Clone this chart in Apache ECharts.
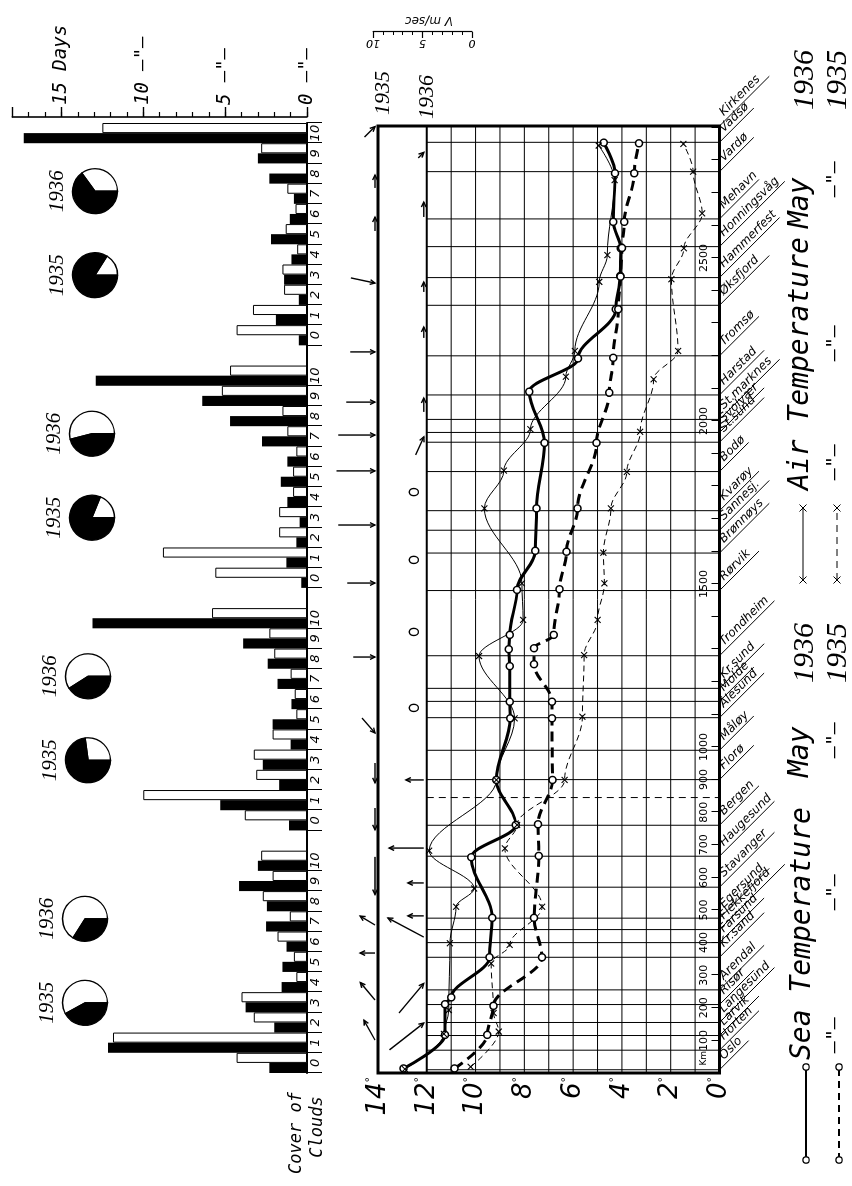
<!DOCTYPE html>
<html>
<head>
<meta charset="utf-8">
<title>Temperature, wind and cloud cover along the Norwegian coast, May 1935 and 1936</title>
<script src="https://cdn.jsdelivr.net/npm/echarts@6/dist/echarts.min.js"></script>
<style>
  html, body { margin: 0; padding: 0; background: #fff; }
  body { width: 852px; height: 1186px; overflow: hidden; position: relative; }
  /* The figure is laid out landscape (1186 x 852) and turned a quarter turn
     counter-clockwise so that the coast runs bottom (Oslo) to top (Kirkenes). */
  #chart {
    position: absolute; left: 0; top: 0;
    width: 1186px; height: 852px;
    transform-origin: 0 0;
    transform: translate(0, 1186px) rotate(-90deg);
    background: #fff;
  }
</style>
</head>
<body>
<div id="chart"></div>
<script>
// ---------------------------------------------------------------------------
// Stations along the coastal route, distance in km from Oslo
// ---------------------------------------------------------------------------
const stationNames = ['Oslo', 'Horten', 'Larvik', 'Langesund', 'Risør', 'Arendal', 'Kr.sand',
  'Farsund', 'Flekkefjord', 'Egersund', 'Stavanger', 'Haugesund', 'Bergen', '', 'Florø', 'Måløy',
  'Ålesund', 'Molde', 'Kr.sund', 'Trondheim', 'Rørvik', 'Brønnøys', 'Sannesj.', 'Kvarøy', 'Bodø',
  'St.sund', 'Svolvær', 'St.marknes', 'Harstad', 'Tromsø', 'Øksfjord', 'Hammerfest', 'Honningsvåg',
  'Mehavn', 'Vardø', 'Vadsø', 'Kirkenes'];
const stationKm = [10, 70, 115, 155, 210, 255, 355, 400, 440, 475, 570, 665, 760, 845, 900, 990,
  1090, 1140, 1180, 1280, 1480, 1595, 1665, 1725, 1845, 1935, 1965, 2005, 2080, 2200, 2355, 2440,
  2535, 2620, 2765, 2855, 2905];
const KM_MAX = 2905;
const kmTickLabels = [100, 200, 300, 400, 500, 600, 700, 800, 900, 1000, 1500, 2000, 2500];
const tempGridLines = [1, 2, 3, 4, 5, 6, 7, 8, 9, 10, 11, 12];

// ---------------------------------------------------------------------------
// Mean May temperatures, [km, degC]
// ---------------------------------------------------------------------------
const seaTemp1936 = [[14, 12.95], [117, 11.25], [211, 11.25], [232, 11.0], [355, 9.43], [476, 9.32],
  [662, 10.18], [761, 8.35], [899, 9.15], [1088, 8.58], [1139, 8.6], [1248, 8.6], [1300, 8.64],
  [1344, 8.6], [1482, 8.3], [1602, 7.55], [1732, 7.5], [1933, 7.17], [2090, 7.8], [2192, 5.8],
  [2343, 4.25], [2445, 4.07], [2530, 4.05], [2611, 4.36], [2760, 4.28], [2854, 4.75]];
const seaTemp1935 = [[14, 10.86], [117, 9.52], [206, 9.27], [355, 7.28], [476, 7.6], [666, 7.41],
  [763, 7.44], [899, 6.85], [1088, 6.87], [1139, 6.87], [1254, 7.6], [1303, 7.6], [1344, 6.8],
  [1484, 6.56], [1599, 6.27], [1732, 5.82], [1933, 5.04], [2087, 4.52], [2194, 4.36], [2343, 4.15],
  [2443, 4.06], [2531, 4.0], [2611, 3.9], [2760, 3.5], [2852, 3.3]];
const airTemp1936 = [[12, 12.9], [120, 11.3], [193, 11.1], [398, 11.05], [510, 10.8], [566, 10.06],
  [682, 11.9], [899, 9.15], [1088, 8.4], [1279, 9.86], [1390, 8.05], [1502, 8.1], [1732, 9.64],
  [1848, 8.84], [1975, 7.75], [2136, 6.3], [2215, 5.93], [2427, 4.93], [2509, 4.6], [2739, 4.3],
  [2845, 4.95]];
const airTemp1935 = [[19, 10.2], [127, 9.05], [184, 9.26], [336, 9.36], [393, 8.6], [510, 7.27],
  [689, 8.8], [761, 8.3], [899, 6.35], [1093, 5.62], [1282, 5.55], [1390, 5.0], [1502, 4.72],
  [1596, 4.76], [1732, 4.45], [1844, 3.8], [1967, 3.25], [2128, 2.7], [2215, 1.7], [2435, 1.97],
  [2530, 1.46], [2637, 0.71], [2765, 1.08], [2850, 1.48]];

// ---------------------------------------------------------------------------
// Mean wind, [km, direction the air moves towards (deg from north), speed m/s]
// speed 0 = calm
// ---------------------------------------------------------------------------
const wind1935 = [[2871, 45, 1.5], [2715, 0, 1.3], [2583, 0, 1.4], [2439, 102, 2.5], [2212, 90, 2.5],
  [2058, 90, 2.9], [1957, 90, 3.7], [1847, 90, 3.9], [1681, 90, 3.7], [1503, 90, 2.8],
  [1276, 90, 2.2], [1089, 139, 2.0], [951, 180, 2.0], [813, 180, 2.2], [663, 180, 3.8],
  [454, 301, 1.75], [368, 270, 1.5], [224, 320, 2.3], [101, 331, 2.3]];
const wind1936 = [[2807, 45, 0.8], [2626, 0, 1.5], [2396, 0, 1.0], [2255, 0, 1.1], [2028, 0, 1.4],
  [1896, 24, 2.0], [1782, 0, 0], [1574, 0, 0], [1353, 0, 0], [1120, 0, 0], [899, 270, 1.8],
  [690, 270, 3.5], [583, 270, 1.6], [482, 270, 1.6], [417, 298, 4.1], [184, 40, 3.9], [71, 52, 4.4]];

// ---------------------------------------------------------------------------
// Cover of clouds: number of days with cloudiness 0..10, four coastal sections
// ---------------------------------------------------------------------------
const cloudClasses = ['0', '1', '2', '3', '4', '5', '6', '7', '8', '9', '10'];
const cloudSouth1936 = [2.3, 12.15, 2.0, 3.75, 1.55, 1.5, 1.25, 2.5, 2.45, 4.15, 3.0];
const cloudSouth1935 = [4.3, 11.85, 3.25, 4.0, 0.65, 0.8, 1.8, 1.05, 2.7, 2.1, 2.8];
const cloudWest1936 = [1.1, 5.3, 1.7, 2.7, 1.0, 2.1, 0.95, 1.8, 2.4, 3.9, 13.1];
const cloudWest1935 = [3.8, 10.0, 3.1, 3.25, 2.1, 0.65, 0.75, 1.0, 2.0, 2.3, 5.8];
const cloudMid1936 = [0.35, 1.26, 0.65, 0.45, 1.2, 1.6, 1.2, 2.75, 4.7, 6.4, 12.9];
const cloudMid1935 = [5.6, 8.8, 1.7, 1.7, 0.85, 0.85, 0.65, 1.2, 1.5, 5.2, 4.7];
const cloudNorth1936 = [0.5, 1.9, 0.5, 1.4, 0.95, 2.2, 1.05, 0.8, 2.3, 3.0, 17.3];
const cloudNorth1935 = [4.3, 3.3, 1.4, 1.5, 0.6, 1.3, 0.7, 1.2, 0, 2.8, 12.5];
// mean cloud cover (fraction of sky) per section: South, West, Mid, North
const pieCover1936 = [0.34, 0.41, 0.46, 0.65];
const pieCover1935 = [0.42, 0.73, 0.81, 0.84];
const dayTickLabels = { 15: '15 Days', 10: '10 –"–', 5: '5 –"–', 0: '0 –"–' };
const windScaleLabels = [0, 5, 10];

// ---------------------------------------------------------------------------
// Layout (landscape canvas)
// ---------------------------------------------------------------------------
const W = 1186, H = 852;
const MAIN = { left: 113, right: 126, top: 378, bottom: 132.5 };
const CLOUD = { left: 113, right: 123, top: 12.3, bottom: 545 };
const WIND_SCALE = { left: 1154, right: 31, top: 373, bottom: 380 };
const WIND_PX_PER_MS = (H - WIND_SCALE.top - WIND_SCALE.bottom) / 10;
const HAND = '"DejaVu Sans Mono", monospace';
const SANS = '"DejaVu Sans", sans-serif';
const SERIF = '"Liberation Serif", "DejaVu Serif", serif';

// category axis for the four cloud sections, separated by an empty slot
const cloudGroups = [[cloudSouth1936, cloudSouth1935], [cloudWest1936, cloudWest1935],
  [cloudMid1936, cloudMid1935], [cloudNorth1936, cloudNorth1935]];
const cloudAxis = [], cloudBars1936 = [], cloudBars1935 = [];
cloudGroups.forEach((g, gi) => {
  if (gi > 0) { cloudAxis.push('gap' + gi); cloudBars1936.push(null); cloudBars1935.push(null); }
  cloudClasses.forEach((c, ci) => {
    cloudAxis.push(gi + '|' + c);
    cloudBars1936.push(g[0][ci]);
    cloudBars1935.push(g[1][ci]);
  });
});
const catW = (W - CLOUD.left - CLOUD.right) / cloudAxis.length;
const groupCentre = gi => CLOUD.left + catW * (12 * gi + 5.5);
const pieRowY = [85, 88, 92, 95];

// ---------------------------------------------------------------------------
// Custom renderers
// ---------------------------------------------------------------------------
function renderTempGrid(params, api) {
  const t = api.value(1);
  const a = api.coord([0, t]), b = api.coord([KM_MAX, t]);
  return { type: 'line', shape: { x1: a[0], y1: a[1], x2: b[0], y2: b[1] },
    style: { stroke: '#000', lineWidth: t === 12 ? 2 : 1 } };
}

function renderStation(params, api) {
  const km = api.value(0), name = stationNames[api.value(2)];
  const top = api.coord([km, 12]), bot = api.coord([km, 0]);
  const children = [{ type: 'line', shape: { x1: top[0], y1: top[1], x2: bot[0], y2: bot[1] },
    style: { stroke: '#000', lineWidth: 1, lineDash: name ? null : [7, 5] } }];
  if (name) {
    const d = (name.length * 7.3 + 12) / Math.SQRT2;
    children.push({ type: 'line', shape: { x1: bot[0], y1: bot[1], x2: bot[0] + d, y2: bot[1] + d },
      style: { stroke: '#000', lineWidth: 1 } });
    children.push({ type: 'text', x: bot[0], y: bot[1], rotation: -Math.PI / 4,
      style: { text: name, x: 10, y: -1, font: 'italic 12px ' + SANS, fill: '#000',
        align: 'left', verticalAlign: 'bottom', textAlign: 'left', textVerticalAlign: 'bottom' } });
  }
  return { type: 'group', children };
}

function renderWind(params, api) {
  const km = api.value(0), anchorT = api.value(1), bearing = api.value(2), speed = api.value(3);
  const p = api.coord([km, anchorT]);
  const x = p[0], yLine = p[1];
  if (!speed) {
    return { type: 'ellipse', shape: { cx: x, cy: yLine - 13, rx: 3.6, ry: 4.6 },
      style: { fill: null, stroke: '#000', lineWidth: 1.4 } };
  }
  const L = speed * WIND_PX_PER_MS, b = bearing * Math.PI / 180;
  const dx = L * Math.cos(b), dy = L * Math.sin(b);
  const tx = x, ty = yLine - 3 - Math.max(0, dy);
  const hx = tx + dx, hy = ty + dy;
  const ang = Math.atan2(dy, dx), h = 5.5, spread = 0.45;
  const b1 = [hx - h * Math.cos(ang - spread), hy - h * Math.sin(ang - spread)];
  const b2 = [hx - h * Math.cos(ang + spread), hy - h * Math.sin(ang + spread)];
  return { type: 'group', children: [
    { type: 'line', shape: { x1: tx, y1: ty, x2: hx, y2: hy }, style: { stroke: '#000', lineWidth: 1.4 } },
    { type: 'polyline', shape: { points: [b1, [hx, hy], b2] }, style: { stroke: '#000', lineWidth: 1.4, fill: null } }
  ] };
}

// ---------------------------------------------------------------------------
// Series
// ---------------------------------------------------------------------------
const CROSS = 'path://M0,0L10,10M10,0L0,10';
function tempLine(name, data, thick, dashed, marker) {
  return {
    name, type: 'line', xAxisIndex: 0, yAxisIndex: 0, data, z: 4,
    smooth: 0.35, smoothMonotone: 'x', silent: true,
    symbol: marker === 'o' ? 'circle' : CROSS,
    symbolSize: marker === 'o' ? 7 : 6,
    lineStyle: { color: '#000', width: thick ? 3 : 1, type: dashed ? (thick ? [10, 6] : [6, 4]) : 'solid' },
    itemStyle: marker === 'o'
      ? { color: '#fff', borderColor: '#000', borderWidth: 1.5 }
      : { color: 'rgba(0,0,0,0)', borderColor: '#000', borderWidth: 1.1 }
  };
}

const series = [
  { name: 'grid', type: 'custom', xAxisIndex: 0, yAxisIndex: 0, z: 1, silent: true, clip: false,
    data: tempGridLines.map(t => [0, t]), encode: { x: 0, y: 1 }, renderItem: renderTempGrid },
  { name: 'stations', type: 'custom', xAxisIndex: 0, yAxisIndex: 0, z: 1, silent: true, clip: false,
    data: stationKm.map((k, i) => [k, 0, i]), encode: { x: 0, y: 1 }, renderItem: renderStation },
  tempLine('Sea Temperature May 1936', seaTemp1936, true, false, 'o'),
  tempLine('Sea Temperature May 1935', seaTemp1935, true, true, 'o'),
  tempLine('Air Temperature May 1936', airTemp1936, false, false, 'x'),
  tempLine('Air Temperature May 1935', airTemp1935, false, true, 'x'),
  { name: 'wind 1935', type: 'custom', xAxisIndex: 0, yAxisIndex: 0, z: 5, silent: true, clip: false,
    data: wind1935.map(w => [w[0], 14, w[1], w[2]]), encode: { x: 0, y: 1 }, renderItem: renderWind },
  { name: 'wind 1936', type: 'custom', xAxisIndex: 0, yAxisIndex: 0, z: 5, silent: true, clip: false,
    data: wind1936.map(w => [w[0], 12, w[1], w[2]]), encode: { x: 0, y: 1 }, renderItem: renderWind },
  { name: 'clouds 1936', type: 'bar', xAxisIndex: 1, yAxisIndex: 1, data: cloudBars1936, silent: true,
    barGap: '0%', barCategoryGap: '0%', itemStyle: { color: '#000' } },
  { name: 'clouds 1935', type: 'bar', xAxisIndex: 1, yAxisIndex: 1, data: cloudBars1935, silent: true,
    barGap: '0%', barCategoryGap: '0%', itemStyle: { color: '#fff', borderColor: '#000', borderWidth: 1 } }
];

// pies of mean cloudiness, one pair per coastal section
[pieCover1936, pieCover1935].forEach((covers, yi) => {
  covers.forEach((f, gi) => {
    series.push({
      name: 'cover ' + (yi ? 1935 : 1936), type: 'pie', silent: true,
      center: [groupCentre(gi) + (yi ? -41 : 43), pieRowY[gi]], radius: 22.5,
      startAngle: 270, clockwise: false, label: { show: false }, labelLine: { show: false },
      itemStyle: { borderColor: '#000', borderWidth: 1.3 },
      data: [{ value: 1 - f, itemStyle: { color: '#fff' } }, { value: f, itemStyle: { color: '#000' } }]
    });
  });
});

// ---------------------------------------------------------------------------
// Free text and legend samples
// ---------------------------------------------------------------------------
function txt(text, x, y, font, align, rotation) {
  return { type: 'text', x, y, rotation: rotation || 0, silent: true,
    style: { text, font, fill: '#000', align: align || 'left', textAlign: align || 'left',
      verticalAlign: 'middle', textVerticalAlign: 'middle' } };
}
function sample(x1, x2, y, dashed, marker) {
  const els = [{ type: 'line', shape: { x1, y1: y, x2, y2: y }, silent: true,
    style: { stroke: '#000', lineWidth: marker === 'o' ? 1.8 : 1, lineDash: dashed ? [7, 5] : null } }];
  [x1, x2].forEach(x => {
    if (marker === 'o') {
      els.push({ type: 'circle', shape: { cx: x, cy: y, r: 3.2 }, silent: true,
        style: { fill: '#fff', stroke: '#000', lineWidth: 1.3 } });
    } else {
      els.push({ type: 'polyline', shape: { points: [[x - 3.5, y - 3.5], [x + 3.5, y + 3.5]] }, silent: true, style: { stroke: '#000', lineWidth: 1 } });
      els.push({ type: 'polyline', shape: { points: [[x - 3.5, y + 3.5], [x + 3.5, y - 3.5]] }, silent: true, style: { stroke: '#000', lineWidth: 1 } });
    }
  });
  return els;
}

const big = 'italic 28px ' + HAND;
const ditto = 'italic 20px ' + HAND;
const graphic = [
  // wind columns
  txt('1935', 1071, 383, 'italic 22px ' + SERIF),
  txt('1936', 1067, 427, 'italic 22px ' + SERIF),
  txt('V m/sec', 1166, 429, 'italic 12px ' + SANS, 'center', Math.PI / 2),
  // cloud panel caption
  txt('Cover of', 53, 297, 'italic 17px ' + HAND, 'center'),
  txt('Clouds', 59, 318, 'italic 17px ' + HAND, 'center'),
  // legend: sea temperature
  ...sample(26, 119, 806, false, 'o'),
  ...sample(26, 119, 839, true, 'o'),
  txt('Sea Temperature', 126, 803, big),
  txt('May', 409, 801, big),
  txt('1936', 503, 805, 'italic 30px ' + SERIF),
  txt('–"–', 151, 835, ditto, 'center'),
  txt('–"–', 294, 835, ditto, 'center'),
  txt('–"–', 446, 835, ditto, 'center'),
  txt('1935', 503, 838, 'italic 30px ' + SERIF),
  // legend: air temperature
  ...sample(606, 678, 803, false, 'x'),
  ...sample(606, 678, 837, true, 'x'),
  txt('Air Temperature', 696, 801, big),
  txt('May', 958, 801, big),
  txt('1936', 1076, 805, 'italic 30px ' + SERIF),
  txt('–"–', 724, 835, ditto, 'center'),
  txt('–"–', 843, 835, ditto, 'center'),
  txt('–"–', 1007, 835, ditto, 'center'),
  txt('1935', 1076, 838, 'italic 30px ' + SERIF)
];
// year labels above the pies
[0, 1, 2, 3].forEach(gi => {
  graphic.push(txt('1936', groupCentre(gi) + 43, pieRowY[gi] - 38, 'italic 21px ' + SERIF, 'center'));
  graphic.push(txt('1935', groupCentre(gi) - 41, pieRowY[gi] - 38, 'italic 21px ' + SERIF, 'center'));
});

// ---------------------------------------------------------------------------
// Chart
// ---------------------------------------------------------------------------
const chart = echarts.init(document.getElementById('chart'), null, { renderer: 'canvas', width: W, height: H });
chart.setOption({
  animation: false,
  backgroundColor: '#fff',
  textStyle: { fontFamily: SANS, color: '#000' },
  grid: [
    Object.assign({ show: true, borderColor: '#000', borderWidth: 3, backgroundColor: 'transparent',
      containLabel: false, outerBoundsMode: 'none' }, MAIN),
    Object.assign({ show: false, containLabel: false, outerBoundsMode: 'none' }, CLOUD),
    Object.assign({ show: false, containLabel: false, outerBoundsMode: 'none' }, WIND_SCALE)
  ],
  xAxis: [
    { gridIndex: 0, type: 'value', min: 0, max: KM_MAX, interval: 100,
      axisLine: { show: false }, splitLine: { show: false },
      axisTick: { show: true, inside: true, length: 8, lineStyle: { color: '#000', width: 1 } },
      axisLabel: { show: true, inside: true, margin: 10, fontSize: 11, color: '#000', fontFamily: SANS,
        showMinLabel: false, showMaxLabel: false,
        formatter: v => kmTickLabels.indexOf(v) < 0 ? '' : (v === 100 ? '{k|Km}100{h|Km}' : String(v)),
        rich: { k: { fontSize: 9, color: '#000' }, h: { fontSize: 9, color: 'transparent' } } } },
    { gridIndex: 1, type: 'category', data: cloudAxis, boundaryGap: true,
      axisLine: { show: true, lineStyle: { color: '#000', width: 2 } },
      axisTick: { show: true, length: 15, lineStyle: { color: '#000', width: 1 },
        interval: (i, v) => String(v).indexOf('gap') !== 0 },
      axisLabel: { show: true, interval: 0, margin: 2, fontSize: 13, fontStyle: 'italic', color: '#000',
        fontFamily: SANS, formatter: v => (v.indexOf('gap') === 0 ? '' : v.split('|')[1]) },
      splitLine: { show: false } },
    { gridIndex: 2, type: 'value', show: false, min: 0, max: 1 }
  ],
  yAxis: [
    { gridIndex: 0, type: 'value', min: 0, max: 14, interval: 2,
      axisLine: { show: false }, axisTick: { show: false }, splitLine: { show: false },
      axisLabel: { show: true, margin: 4, formatter: v => '{n|' + v + '}{d|°}',
        rich: { n: { fontSize: 26, fontStyle: 'italic', fontFamily: SANS, color: '#000' },
                d: { fontSize: 11, color: '#000', verticalAlign: 'top', padding: [0, 0, 14, 0] } } } },
    { gridIndex: 1, type: 'value', min: 0, max: 18, interval: 1, position: 'right', offset: 6,
      axisLine: { show: true, lineStyle: { color: '#000', width: 1.6 } },
      axisTick: { show: true, length: 5, lineStyle: { color: '#000', width: 1.2 } },
      splitLine: { show: false },
      axisLabel: { show: true, margin: 12, color: '#000', fontSize: 19, fontStyle: 'italic', fontFamily: HAND,
        showMaxLabel: false, formatter: v => dayTickLabels[v] || '' } },
    { gridIndex: 1, type: 'value', min: 0, max: 18, interval: 5, position: 'right', offset: 6,
      axisLine: { show: false }, axisLabel: { show: false }, splitLine: { show: false },
      axisTick: { show: true, length: 10, lineStyle: { color: '#000', width: 1.4 } } },
    { gridIndex: 2, type: 'value', min: 0, max: 10, interval: 1, position: 'left',
      axisLine: { show: true, lineStyle: { color: '#000', width: 1.2 } },
      axisTick: { show: true, length: 3, lineStyle: { color: '#000', width: 1 } },
      splitLine: { show: false },
      axisLabel: { show: true, margin: 5, rotate: 90, fontSize: 11, fontStyle: 'italic', color: '#000',
        formatter: v => windScaleLabels.indexOf(v) < 0 ? '' : String(v) } },
    { gridIndex: 2, type: 'value', min: 0, max: 10, interval: 5, position: 'left',
      axisLine: { show: false }, axisLabel: { show: false }, splitLine: { show: false },
      axisTick: { show: true, length: 6, lineStyle: { color: '#000', width: 1.2 } } }
  ],
  series,
  graphic
});
</script>
</body>
</html>
